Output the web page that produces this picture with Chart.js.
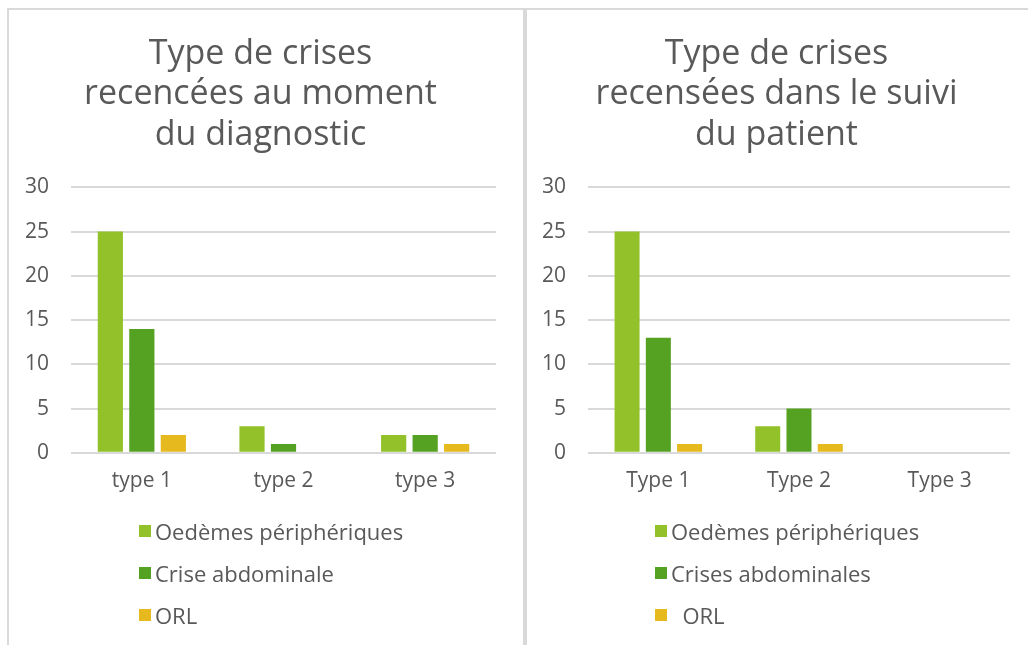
<!DOCTYPE html>
<html>
<head>
<meta charset="utf-8">
<script src="https://cdn.jsdelivr.net/npm/chart.js@4.4.0/dist/chart.umd.min.js"></script>
<style>
  html, body { margin: 0; padding: 0; background: #fff; }
  body { width: 1028px; height: 645px; position: relative; overflow: hidden;
         font-family: "Open Sans", "DejaVu Sans", sans-serif; color: #595959; }
  .panel { position: absolute; top: 8px; height: 660px; border: 2px solid #d9d9d9; border-bottom: none; box-sizing: border-box; }
  #p1 { left: 7px; width: 518px; }
  #p2 { left: 525px; width: 520px; border-right: none; }
  .cv { position: absolute; }
  .legend { position: absolute; font-size: 22px; }
  .legend div { height: 42px; line-height: 42px; white-space: pre; display: flex; align-items: center; }
  .legend span.box { display: inline-block; width: 12px; height: 12px; margin-right: 4px; }
</style>
</head>
<body>
<div class="panel" id="p1"></div>
<div class="panel" id="p2"></div>
<div class="cv" style="left:8px;top:8px;width:516px;height:512px;"><canvas id="c1"></canvas></div>
<div class="cv" style="left:527px;top:8px;width:501px;height:512px;"><canvas id="c2"></canvas></div>
<div class="legend" id="lg1" style="left:139px;top:510px;"></div>
<div class="legend" id="lg2" style="left:655px;top:510px;"></div>
<script>
// données
const categoriesDiag = ['type 1', 'type 2', 'type 3'];
const categoriesSuivi = ['Type 1', 'Type 2', 'Type 3'];
const oedemesDiag = [25, 3, 2];
const abdoDiag = [14, 1, 2];
const orlDiag = [2, 0, 1];
const oedemesSuivi = [25, 3, 0];
const abdoSuivi = [13, 5, 0];
const orlSuivi = [1, 1, 0];
const yTicks = [0, 5, 10, 15, 20, 25, 30];

const COLORS = ['#92c12a', '#55a222', '#e6b91e'];
const TXT = '#595959';
const FONT = '"Open Sans", "DejaVu Sans", sans-serif';

function makeChart(id, title, cats, sets, pad, axisW) {
  return new Chart(document.getElementById(id), {
    type: 'bar',
    data: {
      labels: cats,
      datasets: sets.map((s, i) => ({
        label: s.label, data: s.data, backgroundColor: COLORS[i],
        borderWidth: 0, categoryPercentage: 0.667, barPercentage: 0.8
      }))
    },
    options: {
      responsive: true,
      maintainAspectRatio: false,
      animation: false,
      layout: { padding: pad },
      plugins: {
        legend: { display: false },
        tooltip: { enabled: false },
        title: {
          display: true, text: title, color: TXT,
          font: { family: FONT, size: 34, weight: 'normal', lineHeight: 1.19 },
          padding: { top: 26, bottom: 32 }
        }
      },
      scales: {
        x: {
          grid: { display: false, drawTicks: false },
          border: { display: false },
          ticks: { color: TXT, font: { family: FONT, size: 21 }, padding: 16 }
        },
        y: {
          min: 0, max: 30,
          afterBuildTicks: ax => { ax.ticks = yTicks.map(v => ({ value: v })); },
          afterFit: ax => { ax.width = axisW; },
          grid: { color: '#d9d9d9', lineWidth: 2, drawTicks: false },
          border: { display: false },
          ticks: { color: TXT, font: { family: FONT, size: 21 }, padding: 22 }
        }
      }
    }
  });
}

function makeLegend(id, labels) {
  const el = document.getElementById(id);
  el.innerHTML = labels.map((l, i) =>
    `<div><span class="box" style="background:${COLORS[i]}"></span>${l}</div>`).join('');
}

makeChart('c1', ['Type de crises', 'recencées au moment', 'du diagnostic'], categoriesDiag, [
  { label: 'Oedèmes périphériques', data: oedemesDiag },
  { label: 'Crise abdominale', data: abdoDiag },
  { label: 'ORL', data: orlDiag }
], { left: 17, right: 28, bottom: 10 }, 46);

makeChart('c2', ['Type de crises', 'recensées dans le suivi', 'du patient'], categoriesSuivi, [
  { label: 'Oedèmes périphériques', data: oedemesSuivi },
  { label: 'Crises abdominales', data: abdoSuivi },
  { label: ' ORL', data: orlSuivi }
], { left: 16, right: 18, bottom: 10 }, 45);

makeLegend('lg1', ['Oedèmes périphériques', 'Crise abdominale', 'ORL']);
makeLegend('lg2', ['Oedèmes périphériques', 'Crises abdominales', '  ORL']);
</script>
</body>
</html>
